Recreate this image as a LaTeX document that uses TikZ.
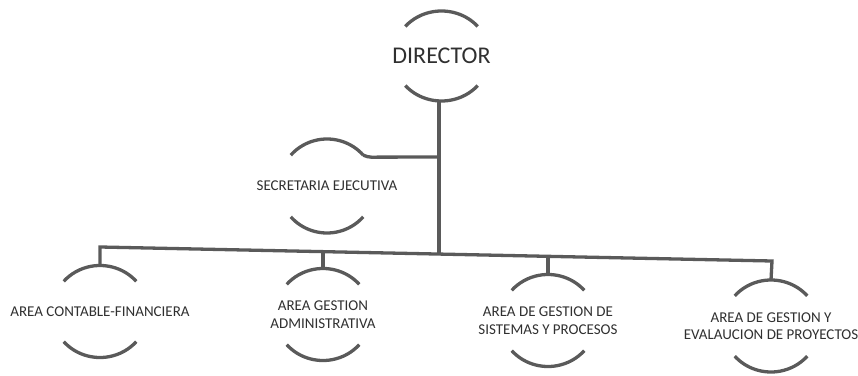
\documentclass[tikz,border=0pt]{standalone}
\usepackage{fontspec}
\setmainfont{Carlito}
\usetikzlibrary{calc}
\definecolor{ink}{HTML}{5A5A5A}
\definecolor{txt}{HTML}{303030}
\newcommand{\ringarcs}[3]{%
  \draw[conn] ([shift={(41:#2 and #3)}]#1.center) arc[start angle=41,end angle=139,x radius=#2,y radius=#3];
  \draw[conn] ([shift={(221:#2 and #3)}]#1.center) arc[start angle=221,end angle=319,x radius=#2,y radius=#3];}
\begin{document}
\begin{tikzpicture}[x=1pt,y=1pt,
  lbl/.style={inner sep=0pt, outer sep=0pt, text=txt, align=center, font=\fontsize{15}{17.5}\selectfont},
  bigl/.style={lbl, font=\fontsize{24}{28}\selectfont},
  conn/.style={draw=ink, line width=3.3pt, line cap=butt}]
\useasboundingbox (0,0) rectangle (858,375);

\node[bigl] (dir) at (441.5,319) {DIRECTOR};
\node[lbl] (sec) at (327,189) {SECRETARIA EJECUTIVA};
\node[lbl] (c1) at (100,63.5) {AREA CONTABLE-FINANCIERA};
\node[lbl] (c2) at (323,60.5) {AREA GESTION\\ADMINISTRATIVA};
\node[lbl] (c3) at (548,54.5) {AREA DE GESTION DE\\SISTEMAS Y PROCESOS};
\node[lbl] (c4) at (771,49) {AREA DE GESTION Y\\EVALAUCION DE PROYECTOS};

\ringarcs{dir}{48pt}{45pt}
\ringarcs{sec}{48pt}{47pt}
\ringarcs{c1}{48pt}{46pt}
\ringarcs{c2}{48pt}{46pt}
\ringarcs{c3}{48pt}{46pt}
\ringarcs{c4}{48pt}{46pt}

% connection points
\coordinate (dbot) at (439,273);
\coordinate (jS) at (439,218);
\coordinate (sR) at ([shift={(41:48pt and 47pt)}]sec.center);
\coordinate (jD) at (439,120.9);
\coordinate (bl) at (100,128);
\coordinate (br) at (772,114);
\coordinate (j2) at (323,123.4);
\coordinate (j3) at (548,118.7);
\coordinate (t1) at ([yshift=46pt]c1.center);
\coordinate (t2) at ([yshift=46pt]c2.center);
\coordinate (t3) at ([yshift=46pt]c3.center);
\coordinate (t4) at ([yshift=46pt]c4.center);

\draw[conn] (dbot) -- (jD);
\draw[conn] (sR) to[out=-20,in=180] ++(8,-2) -- (jS);
\draw[conn, line join=miter] (t1) -- (bl) -- (br) -- (t4);
\draw[conn] (j2) -- (t2);
\draw[conn] (j3) -- (t3);
\end{tikzpicture}
\end{document}
